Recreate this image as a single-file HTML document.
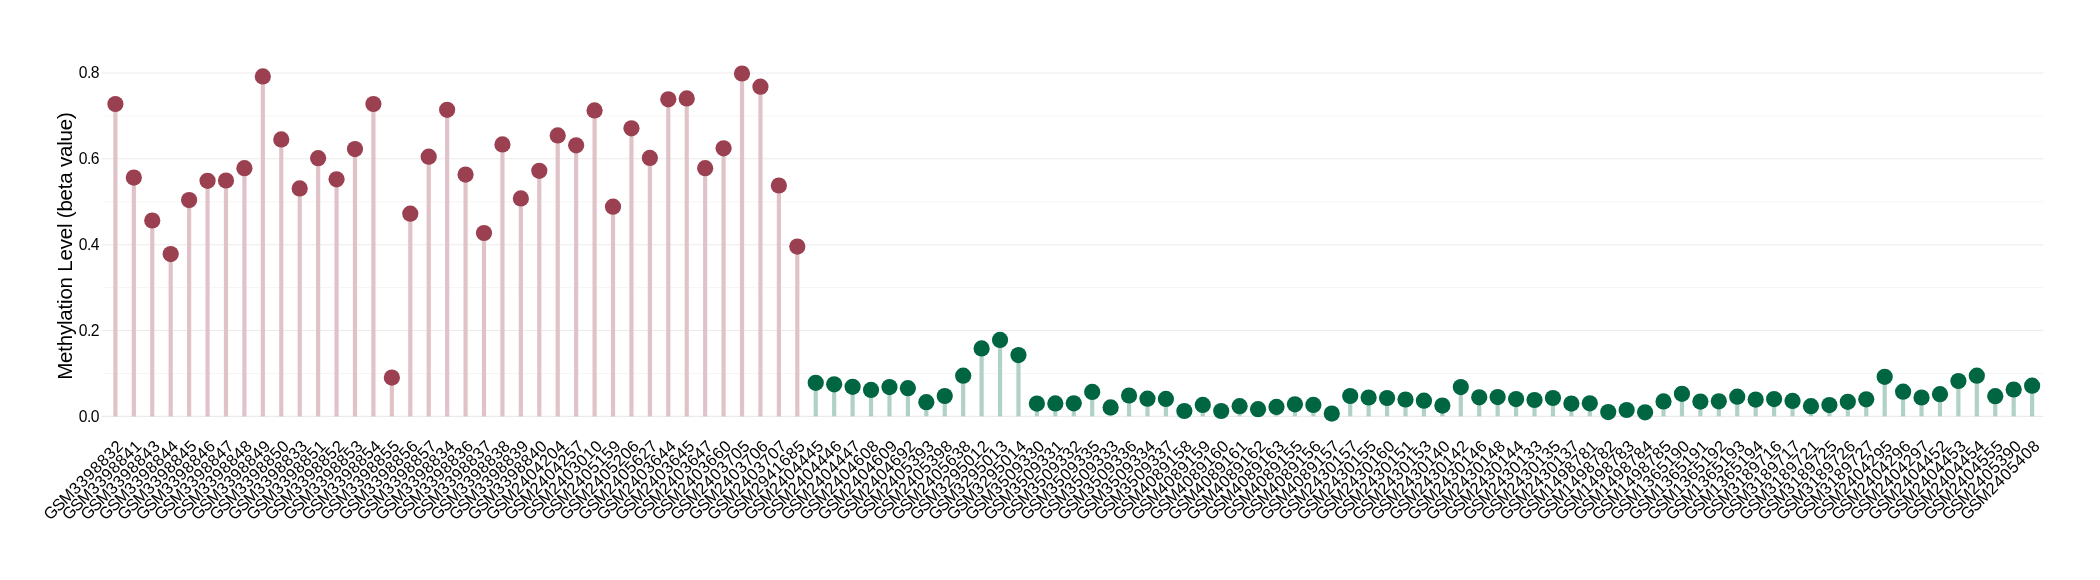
<!DOCTYPE html><html><head><meta charset="utf-8"><style>html,body{margin:0;padding:0;background:#fff;width:2100px;height:580px;overflow:hidden}svg{display:block;will-change:transform}text{font-family:"Liberation Sans",sans-serif;fill:#000}</style></head><body>
<svg width="2100" height="580" viewBox="0 0 2100 580">
<rect width="2100" height="580" fill="#fff"/>
<line x1="104.1" x2="2043.2" y1="373.47" y2="373.47" stroke="#F0F0F0" stroke-width="0.7"/>
<line x1="104.1" x2="2043.2" y1="287.61" y2="287.61" stroke="#F0F0F0" stroke-width="0.7"/>
<line x1="104.1" x2="2043.2" y1="201.75" y2="201.75" stroke="#F0F0F0" stroke-width="0.7"/>
<line x1="104.1" x2="2043.2" y1="115.89" y2="115.89" stroke="#F0F0F0" stroke-width="0.7"/>
<line x1="101.6" x2="2043.2" y1="416.40" y2="416.40" stroke="#EBEBEB" stroke-width="1.07"/>
<line x1="101.6" x2="2043.2" y1="330.54" y2="330.54" stroke="#EBEBEB" stroke-width="1.07"/>
<line x1="101.6" x2="2043.2" y1="244.68" y2="244.68" stroke="#EBEBEB" stroke-width="1.07"/>
<line x1="101.6" x2="2043.2" y1="158.82" y2="158.82" stroke="#EBEBEB" stroke-width="1.07"/>
<line x1="101.6" x2="2043.2" y1="72.96" y2="72.96" stroke="#EBEBEB" stroke-width="1.07"/>
<text x="99.0" y="421.54" font-size="15.7" letter-spacing="-0.5" text-anchor="end">0.0</text>
<text x="99.0" y="335.68" font-size="15.7" letter-spacing="-0.5" text-anchor="end">0.2</text>
<text x="99.0" y="249.82" font-size="15.7" letter-spacing="-0.5" text-anchor="end">0.4</text>
<text x="99.0" y="163.96" font-size="15.7" letter-spacing="-0.5" text-anchor="end">0.6</text>
<text x="99.0" y="78.10" font-size="15.7" letter-spacing="-0.5" text-anchor="end">0.8</text>
<text transform="translate(72.0,246.1) rotate(-90)" font-size="20.5" letter-spacing="-0.2" text-anchor="middle">Methylation Level (beta value)</text>
<line x1="115.40" x2="115.40" y1="416.4" y2="104.00" stroke="#E0C3C8" stroke-width="4.2"/>
<line x1="133.83" x2="133.83" y1="416.4" y2="177.60" stroke="#E0C3C8" stroke-width="4.2"/>
<line x1="152.26" x2="152.26" y1="416.4" y2="220.50" stroke="#E0C3C8" stroke-width="4.2"/>
<line x1="170.69" x2="170.69" y1="416.4" y2="254.10" stroke="#E0C3C8" stroke-width="4.2"/>
<line x1="189.12" x2="189.12" y1="416.4" y2="200.10" stroke="#E0C3C8" stroke-width="4.2"/>
<line x1="207.55" x2="207.55" y1="416.4" y2="180.80" stroke="#E0C3C8" stroke-width="4.2"/>
<line x1="225.98" x2="225.98" y1="416.4" y2="180.50" stroke="#E0C3C8" stroke-width="4.2"/>
<line x1="244.41" x2="244.41" y1="416.4" y2="168.20" stroke="#E0C3C8" stroke-width="4.2"/>
<line x1="262.84" x2="262.84" y1="416.4" y2="76.40" stroke="#E0C3C8" stroke-width="4.2"/>
<line x1="281.27" x2="281.27" y1="416.4" y2="139.40" stroke="#E0C3C8" stroke-width="4.2"/>
<line x1="299.70" x2="299.70" y1="416.4" y2="188.40" stroke="#E0C3C8" stroke-width="4.2"/>
<line x1="318.13" x2="318.13" y1="416.4" y2="158.20" stroke="#E0C3C8" stroke-width="4.2"/>
<line x1="336.56" x2="336.56" y1="416.4" y2="179.30" stroke="#E0C3C8" stroke-width="4.2"/>
<line x1="354.99" x2="354.99" y1="416.4" y2="149.10" stroke="#E0C3C8" stroke-width="4.2"/>
<line x1="373.42" x2="373.42" y1="416.4" y2="104.00" stroke="#E0C3C8" stroke-width="4.2"/>
<line x1="391.85" x2="391.85" y1="416.4" y2="377.60" stroke="#E0C3C8" stroke-width="4.2"/>
<line x1="410.28" x2="410.28" y1="416.4" y2="213.70" stroke="#E0C3C8" stroke-width="4.2"/>
<line x1="428.71" x2="428.71" y1="416.4" y2="156.70" stroke="#E0C3C8" stroke-width="4.2"/>
<line x1="447.14" x2="447.14" y1="416.4" y2="109.80" stroke="#E0C3C8" stroke-width="4.2"/>
<line x1="465.57" x2="465.57" y1="416.4" y2="174.60" stroke="#E0C3C8" stroke-width="4.2"/>
<line x1="484.00" x2="484.00" y1="416.4" y2="233.00" stroke="#E0C3C8" stroke-width="4.2"/>
<line x1="502.43" x2="502.43" y1="416.4" y2="144.40" stroke="#E0C3C8" stroke-width="4.2"/>
<line x1="520.86" x2="520.86" y1="416.4" y2="198.40" stroke="#E0C3C8" stroke-width="4.2"/>
<line x1="539.29" x2="539.29" y1="416.4" y2="170.80" stroke="#E0C3C8" stroke-width="4.2"/>
<line x1="557.72" x2="557.72" y1="416.4" y2="135.40" stroke="#E0C3C8" stroke-width="4.2"/>
<line x1="576.15" x2="576.15" y1="416.4" y2="145.30" stroke="#E0C3C8" stroke-width="4.2"/>
<line x1="594.58" x2="594.58" y1="416.4" y2="110.40" stroke="#E0C3C8" stroke-width="4.2"/>
<line x1="613.01" x2="613.01" y1="416.4" y2="206.70" stroke="#E0C3C8" stroke-width="4.2"/>
<line x1="631.44" x2="631.44" y1="416.4" y2="128.30" stroke="#E0C3C8" stroke-width="4.2"/>
<line x1="649.87" x2="649.87" y1="416.4" y2="157.90" stroke="#E0C3C8" stroke-width="4.2"/>
<line x1="668.30" x2="668.30" y1="416.4" y2="99.30" stroke="#E0C3C8" stroke-width="4.2"/>
<line x1="686.73" x2="686.73" y1="416.4" y2="98.40" stroke="#E0C3C8" stroke-width="4.2"/>
<line x1="705.16" x2="705.16" y1="416.4" y2="168.20" stroke="#E0C3C8" stroke-width="4.2"/>
<line x1="723.59" x2="723.59" y1="416.4" y2="148.30" stroke="#E0C3C8" stroke-width="4.2"/>
<line x1="742.02" x2="742.02" y1="416.4" y2="73.50" stroke="#E0C3C8" stroke-width="4.2"/>
<line x1="760.45" x2="760.45" y1="416.4" y2="86.70" stroke="#E0C3C8" stroke-width="4.2"/>
<line x1="778.88" x2="778.88" y1="416.4" y2="185.50" stroke="#E0C3C8" stroke-width="4.2"/>
<line x1="797.31" x2="797.31" y1="416.4" y2="246.60" stroke="#E0C3C8" stroke-width="4.2"/>
<line x1="815.74" x2="815.74" y1="416.4" y2="382.80" stroke="#B0D2C5" stroke-width="4.2"/>
<line x1="834.17" x2="834.17" y1="416.4" y2="384.30" stroke="#B0D2C5" stroke-width="4.2"/>
<line x1="852.60" x2="852.60" y1="416.4" y2="386.80" stroke="#B0D2C5" stroke-width="4.2"/>
<line x1="871.03" x2="871.03" y1="416.4" y2="389.90" stroke="#B0D2C5" stroke-width="4.2"/>
<line x1="889.46" x2="889.46" y1="416.4" y2="387.10" stroke="#B0D2C5" stroke-width="4.2"/>
<line x1="907.89" x2="907.89" y1="416.4" y2="388.20" stroke="#B0D2C5" stroke-width="4.2"/>
<line x1="926.32" x2="926.32" y1="416.4" y2="402.20" stroke="#B0D2C5" stroke-width="4.2"/>
<line x1="944.75" x2="944.75" y1="416.4" y2="396.00" stroke="#B0D2C5" stroke-width="4.2"/>
<line x1="963.18" x2="963.18" y1="416.4" y2="375.70" stroke="#B0D2C5" stroke-width="4.2"/>
<line x1="981.61" x2="981.61" y1="416.4" y2="348.40" stroke="#B0D2C5" stroke-width="4.2"/>
<line x1="1000.04" x2="1000.04" y1="416.4" y2="339.90" stroke="#B0D2C5" stroke-width="4.2"/>
<line x1="1018.47" x2="1018.47" y1="416.4" y2="355.10" stroke="#B0D2C5" stroke-width="4.2"/>
<line x1="1036.90" x2="1036.90" y1="416.4" y2="403.60" stroke="#B0D2C5" stroke-width="4.2"/>
<line x1="1055.33" x2="1055.33" y1="416.4" y2="403.40" stroke="#B0D2C5" stroke-width="4.2"/>
<line x1="1073.76" x2="1073.76" y1="416.4" y2="403.30" stroke="#B0D2C5" stroke-width="4.2"/>
<line x1="1092.19" x2="1092.19" y1="416.4" y2="391.90" stroke="#B0D2C5" stroke-width="4.2"/>
<line x1="1110.62" x2="1110.62" y1="416.4" y2="407.40" stroke="#B0D2C5" stroke-width="4.2"/>
<line x1="1129.05" x2="1129.05" y1="416.4" y2="395.50" stroke="#B0D2C5" stroke-width="4.2"/>
<line x1="1147.48" x2="1147.48" y1="416.4" y2="398.70" stroke="#B0D2C5" stroke-width="4.2"/>
<line x1="1165.91" x2="1165.91" y1="416.4" y2="398.90" stroke="#B0D2C5" stroke-width="4.2"/>
<line x1="1184.34" x2="1184.34" y1="416.4" y2="411.00" stroke="#B0D2C5" stroke-width="4.2"/>
<line x1="1202.77" x2="1202.77" y1="416.4" y2="404.90" stroke="#B0D2C5" stroke-width="4.2"/>
<line x1="1221.20" x2="1221.20" y1="416.4" y2="411.00" stroke="#B0D2C5" stroke-width="4.2"/>
<line x1="1239.63" x2="1239.63" y1="416.4" y2="406.20" stroke="#B0D2C5" stroke-width="4.2"/>
<line x1="1258.06" x2="1258.06" y1="416.4" y2="409.20" stroke="#B0D2C5" stroke-width="4.2"/>
<line x1="1276.49" x2="1276.49" y1="416.4" y2="406.90" stroke="#B0D2C5" stroke-width="4.2"/>
<line x1="1294.92" x2="1294.92" y1="416.4" y2="404.30" stroke="#B0D2C5" stroke-width="4.2"/>
<line x1="1313.35" x2="1313.35" y1="416.4" y2="404.90" stroke="#B0D2C5" stroke-width="4.2"/>
<line x1="1331.78" x2="1331.78" y1="416.4" y2="413.60" stroke="#B0D2C5" stroke-width="4.2"/>
<line x1="1350.21" x2="1350.21" y1="416.4" y2="396.00" stroke="#B0D2C5" stroke-width="4.2"/>
<line x1="1368.64" x2="1368.64" y1="416.4" y2="397.50" stroke="#B0D2C5" stroke-width="4.2"/>
<line x1="1387.07" x2="1387.07" y1="416.4" y2="398.00" stroke="#B0D2C5" stroke-width="4.2"/>
<line x1="1405.50" x2="1405.50" y1="416.4" y2="399.50" stroke="#B0D2C5" stroke-width="4.2"/>
<line x1="1423.93" x2="1423.93" y1="416.4" y2="400.70" stroke="#B0D2C5" stroke-width="4.2"/>
<line x1="1442.36" x2="1442.36" y1="416.4" y2="405.60" stroke="#B0D2C5" stroke-width="4.2"/>
<line x1="1460.79" x2="1460.79" y1="416.4" y2="387.10" stroke="#B0D2C5" stroke-width="4.2"/>
<line x1="1479.22" x2="1479.22" y1="416.4" y2="397.30" stroke="#B0D2C5" stroke-width="4.2"/>
<line x1="1497.65" x2="1497.65" y1="416.4" y2="397.10" stroke="#B0D2C5" stroke-width="4.2"/>
<line x1="1516.08" x2="1516.08" y1="416.4" y2="399.10" stroke="#B0D2C5" stroke-width="4.2"/>
<line x1="1534.51" x2="1534.51" y1="416.4" y2="400.00" stroke="#B0D2C5" stroke-width="4.2"/>
<line x1="1552.94" x2="1552.94" y1="416.4" y2="398.00" stroke="#B0D2C5" stroke-width="4.2"/>
<line x1="1571.37" x2="1571.37" y1="416.4" y2="403.60" stroke="#B0D2C5" stroke-width="4.2"/>
<line x1="1589.80" x2="1589.80" y1="416.4" y2="403.30" stroke="#B0D2C5" stroke-width="4.2"/>
<line x1="1608.23" x2="1608.23" y1="416.4" y2="412.10" stroke="#B0D2C5" stroke-width="4.2"/>
<line x1="1626.66" x2="1626.66" y1="416.4" y2="410.00" stroke="#B0D2C5" stroke-width="4.2"/>
<line x1="1645.09" x2="1645.09" y1="416.4" y2="412.30" stroke="#B0D2C5" stroke-width="4.2"/>
<line x1="1663.52" x2="1663.52" y1="416.4" y2="401.40" stroke="#B0D2C5" stroke-width="4.2"/>
<line x1="1681.95" x2="1681.95" y1="416.4" y2="393.80" stroke="#B0D2C5" stroke-width="4.2"/>
<line x1="1700.38" x2="1700.38" y1="416.4" y2="401.60" stroke="#B0D2C5" stroke-width="4.2"/>
<line x1="1718.81" x2="1718.81" y1="416.4" y2="401.30" stroke="#B0D2C5" stroke-width="4.2"/>
<line x1="1737.24" x2="1737.24" y1="416.4" y2="396.70" stroke="#B0D2C5" stroke-width="4.2"/>
<line x1="1755.67" x2="1755.67" y1="416.4" y2="399.60" stroke="#B0D2C5" stroke-width="4.2"/>
<line x1="1774.10" x2="1774.10" y1="416.4" y2="399.10" stroke="#B0D2C5" stroke-width="4.2"/>
<line x1="1792.53" x2="1792.53" y1="416.4" y2="400.90" stroke="#B0D2C5" stroke-width="4.2"/>
<line x1="1810.96" x2="1810.96" y1="416.4" y2="406.20" stroke="#B0D2C5" stroke-width="4.2"/>
<line x1="1829.39" x2="1829.39" y1="416.4" y2="405.10" stroke="#B0D2C5" stroke-width="4.2"/>
<line x1="1847.82" x2="1847.82" y1="416.4" y2="401.80" stroke="#B0D2C5" stroke-width="4.2"/>
<line x1="1866.25" x2="1866.25" y1="416.4" y2="399.30" stroke="#B0D2C5" stroke-width="4.2"/>
<line x1="1884.68" x2="1884.68" y1="416.4" y2="376.80" stroke="#B0D2C5" stroke-width="4.2"/>
<line x1="1903.11" x2="1903.11" y1="416.4" y2="391.70" stroke="#B0D2C5" stroke-width="4.2"/>
<line x1="1921.54" x2="1921.54" y1="416.4" y2="397.50" stroke="#B0D2C5" stroke-width="4.2"/>
<line x1="1939.97" x2="1939.97" y1="416.4" y2="394.20" stroke="#B0D2C5" stroke-width="4.2"/>
<line x1="1958.40" x2="1958.40" y1="416.4" y2="381.00" stroke="#B0D2C5" stroke-width="4.2"/>
<line x1="1976.83" x2="1976.83" y1="416.4" y2="375.70" stroke="#B0D2C5" stroke-width="4.2"/>
<line x1="1995.26" x2="1995.26" y1="416.4" y2="396.20" stroke="#B0D2C5" stroke-width="4.2"/>
<line x1="2013.69" x2="2013.69" y1="416.4" y2="389.50" stroke="#B0D2C5" stroke-width="4.2"/>
<line x1="2032.12" x2="2032.12" y1="416.4" y2="385.70" stroke="#B0D2C5" stroke-width="4.2"/>
<circle cx="115.40" cy="104.00" r="8.1" fill="#9A4050"/>
<circle cx="133.83" cy="177.60" r="8.1" fill="#9A4050"/>
<circle cx="152.26" cy="220.50" r="8.1" fill="#9A4050"/>
<circle cx="170.69" cy="254.10" r="8.1" fill="#9A4050"/>
<circle cx="189.12" cy="200.10" r="8.1" fill="#9A4050"/>
<circle cx="207.55" cy="180.80" r="8.1" fill="#9A4050"/>
<circle cx="225.98" cy="180.50" r="8.1" fill="#9A4050"/>
<circle cx="244.41" cy="168.20" r="8.1" fill="#9A4050"/>
<circle cx="262.84" cy="76.40" r="8.1" fill="#9A4050"/>
<circle cx="281.27" cy="139.40" r="8.1" fill="#9A4050"/>
<circle cx="299.70" cy="188.40" r="8.1" fill="#9A4050"/>
<circle cx="318.13" cy="158.20" r="8.1" fill="#9A4050"/>
<circle cx="336.56" cy="179.30" r="8.1" fill="#9A4050"/>
<circle cx="354.99" cy="149.10" r="8.1" fill="#9A4050"/>
<circle cx="373.42" cy="104.00" r="8.1" fill="#9A4050"/>
<circle cx="391.85" cy="377.60" r="8.1" fill="#9A4050"/>
<circle cx="410.28" cy="213.70" r="8.1" fill="#9A4050"/>
<circle cx="428.71" cy="156.70" r="8.1" fill="#9A4050"/>
<circle cx="447.14" cy="109.80" r="8.1" fill="#9A4050"/>
<circle cx="465.57" cy="174.60" r="8.1" fill="#9A4050"/>
<circle cx="484.00" cy="233.00" r="8.1" fill="#9A4050"/>
<circle cx="502.43" cy="144.40" r="8.1" fill="#9A4050"/>
<circle cx="520.86" cy="198.40" r="8.1" fill="#9A4050"/>
<circle cx="539.29" cy="170.80" r="8.1" fill="#9A4050"/>
<circle cx="557.72" cy="135.40" r="8.1" fill="#9A4050"/>
<circle cx="576.15" cy="145.30" r="8.1" fill="#9A4050"/>
<circle cx="594.58" cy="110.40" r="8.1" fill="#9A4050"/>
<circle cx="613.01" cy="206.70" r="8.1" fill="#9A4050"/>
<circle cx="631.44" cy="128.30" r="8.1" fill="#9A4050"/>
<circle cx="649.87" cy="157.90" r="8.1" fill="#9A4050"/>
<circle cx="668.30" cy="99.30" r="8.1" fill="#9A4050"/>
<circle cx="686.73" cy="98.40" r="8.1" fill="#9A4050"/>
<circle cx="705.16" cy="168.20" r="8.1" fill="#9A4050"/>
<circle cx="723.59" cy="148.30" r="8.1" fill="#9A4050"/>
<circle cx="742.02" cy="73.50" r="8.1" fill="#9A4050"/>
<circle cx="760.45" cy="86.70" r="8.1" fill="#9A4050"/>
<circle cx="778.88" cy="185.50" r="8.1" fill="#9A4050"/>
<circle cx="797.31" cy="246.60" r="8.1" fill="#9A4050"/>
<circle cx="815.74" cy="382.80" r="8.1" fill="#006642"/>
<circle cx="834.17" cy="384.30" r="8.1" fill="#006642"/>
<circle cx="852.60" cy="386.80" r="8.1" fill="#006642"/>
<circle cx="871.03" cy="389.90" r="8.1" fill="#006642"/>
<circle cx="889.46" cy="387.10" r="8.1" fill="#006642"/>
<circle cx="907.89" cy="388.20" r="8.1" fill="#006642"/>
<circle cx="926.32" cy="402.20" r="8.1" fill="#006642"/>
<circle cx="944.75" cy="396.00" r="8.1" fill="#006642"/>
<circle cx="963.18" cy="375.70" r="8.1" fill="#006642"/>
<circle cx="981.61" cy="348.40" r="8.1" fill="#006642"/>
<circle cx="1000.04" cy="339.90" r="8.1" fill="#006642"/>
<circle cx="1018.47" cy="355.10" r="8.1" fill="#006642"/>
<circle cx="1036.90" cy="403.60" r="8.1" fill="#006642"/>
<circle cx="1055.33" cy="403.40" r="8.1" fill="#006642"/>
<circle cx="1073.76" cy="403.30" r="8.1" fill="#006642"/>
<circle cx="1092.19" cy="391.90" r="8.1" fill="#006642"/>
<circle cx="1110.62" cy="407.40" r="8.1" fill="#006642"/>
<circle cx="1129.05" cy="395.50" r="8.1" fill="#006642"/>
<circle cx="1147.48" cy="398.70" r="8.1" fill="#006642"/>
<circle cx="1165.91" cy="398.90" r="8.1" fill="#006642"/>
<circle cx="1184.34" cy="411.00" r="8.1" fill="#006642"/>
<circle cx="1202.77" cy="404.90" r="8.1" fill="#006642"/>
<circle cx="1221.20" cy="411.00" r="8.1" fill="#006642"/>
<circle cx="1239.63" cy="406.20" r="8.1" fill="#006642"/>
<circle cx="1258.06" cy="409.20" r="8.1" fill="#006642"/>
<circle cx="1276.49" cy="406.90" r="8.1" fill="#006642"/>
<circle cx="1294.92" cy="404.30" r="8.1" fill="#006642"/>
<circle cx="1313.35" cy="404.90" r="8.1" fill="#006642"/>
<circle cx="1331.78" cy="413.60" r="8.1" fill="#006642"/>
<circle cx="1350.21" cy="396.00" r="8.1" fill="#006642"/>
<circle cx="1368.64" cy="397.50" r="8.1" fill="#006642"/>
<circle cx="1387.07" cy="398.00" r="8.1" fill="#006642"/>
<circle cx="1405.50" cy="399.50" r="8.1" fill="#006642"/>
<circle cx="1423.93" cy="400.70" r="8.1" fill="#006642"/>
<circle cx="1442.36" cy="405.60" r="8.1" fill="#006642"/>
<circle cx="1460.79" cy="387.10" r="8.1" fill="#006642"/>
<circle cx="1479.22" cy="397.30" r="8.1" fill="#006642"/>
<circle cx="1497.65" cy="397.10" r="8.1" fill="#006642"/>
<circle cx="1516.08" cy="399.10" r="8.1" fill="#006642"/>
<circle cx="1534.51" cy="400.00" r="8.1" fill="#006642"/>
<circle cx="1552.94" cy="398.00" r="8.1" fill="#006642"/>
<circle cx="1571.37" cy="403.60" r="8.1" fill="#006642"/>
<circle cx="1589.80" cy="403.30" r="8.1" fill="#006642"/>
<circle cx="1608.23" cy="412.10" r="8.1" fill="#006642"/>
<circle cx="1626.66" cy="410.00" r="8.1" fill="#006642"/>
<circle cx="1645.09" cy="412.30" r="8.1" fill="#006642"/>
<circle cx="1663.52" cy="401.40" r="8.1" fill="#006642"/>
<circle cx="1681.95" cy="393.80" r="8.1" fill="#006642"/>
<circle cx="1700.38" cy="401.60" r="8.1" fill="#006642"/>
<circle cx="1718.81" cy="401.30" r="8.1" fill="#006642"/>
<circle cx="1737.24" cy="396.70" r="8.1" fill="#006642"/>
<circle cx="1755.67" cy="399.60" r="8.1" fill="#006642"/>
<circle cx="1774.10" cy="399.10" r="8.1" fill="#006642"/>
<circle cx="1792.53" cy="400.90" r="8.1" fill="#006642"/>
<circle cx="1810.96" cy="406.20" r="8.1" fill="#006642"/>
<circle cx="1829.39" cy="405.10" r="8.1" fill="#006642"/>
<circle cx="1847.82" cy="401.80" r="8.1" fill="#006642"/>
<circle cx="1866.25" cy="399.30" r="8.1" fill="#006642"/>
<circle cx="1884.68" cy="376.80" r="8.1" fill="#006642"/>
<circle cx="1903.11" cy="391.70" r="8.1" fill="#006642"/>
<circle cx="1921.54" cy="397.50" r="8.1" fill="#006642"/>
<circle cx="1939.97" cy="394.20" r="8.1" fill="#006642"/>
<circle cx="1958.40" cy="381.00" r="8.1" fill="#006642"/>
<circle cx="1976.83" cy="375.70" r="8.1" fill="#006642"/>
<circle cx="1995.26" cy="396.20" r="8.1" fill="#006642"/>
<circle cx="2013.69" cy="389.50" r="8.1" fill="#006642"/>
<circle cx="2032.12" cy="385.70" r="8.1" fill="#006642"/>
<text transform="translate(124.30,446.9) rotate(-45)" font-size="16.5" x="-104.67 -92.83 -82.59 -68.69 -58.83 -48.97 -39.10 -29.24 -19.38 -9.52">GSM3398832</text>
<text transform="translate(142.73,446.9) rotate(-45)" font-size="16.5" x="-104.67 -92.83 -82.59 -68.69 -58.83 -48.97 -39.10 -29.24 -19.38 -9.52">GSM3398841</text>
<text transform="translate(161.16,446.9) rotate(-45)" font-size="16.5" x="-104.67 -92.83 -82.59 -68.69 -58.83 -48.97 -39.10 -29.24 -19.38 -9.52">GSM3398843</text>
<text transform="translate(179.59,446.9) rotate(-45)" font-size="16.5" x="-104.67 -92.83 -82.59 -68.69 -58.83 -48.97 -39.10 -29.24 -19.38 -9.52">GSM3398844</text>
<text transform="translate(198.02,446.9) rotate(-45)" font-size="16.5" x="-104.67 -92.83 -82.59 -68.69 -58.83 -48.97 -39.10 -29.24 -19.38 -9.52">GSM3398845</text>
<text transform="translate(216.45,446.9) rotate(-45)" font-size="16.5" x="-104.67 -92.83 -82.59 -68.69 -58.83 -48.97 -39.10 -29.24 -19.38 -9.52">GSM3398846</text>
<text transform="translate(234.88,446.9) rotate(-45)" font-size="16.5" x="-104.67 -92.83 -82.59 -68.69 -58.83 -48.97 -39.10 -29.24 -19.38 -9.52">GSM3398847</text>
<text transform="translate(253.31,446.9) rotate(-45)" font-size="16.5" x="-104.67 -92.83 -82.59 -68.69 -58.83 -48.97 -39.10 -29.24 -19.38 -9.52">GSM3398848</text>
<text transform="translate(271.74,446.9) rotate(-45)" font-size="16.5" x="-104.67 -92.83 -82.59 -68.69 -58.83 -48.97 -39.10 -29.24 -19.38 -9.52">GSM3398849</text>
<text transform="translate(290.17,446.9) rotate(-45)" font-size="16.5" x="-104.67 -92.83 -82.59 -68.69 -58.83 -48.97 -39.10 -29.24 -19.38 -9.52">GSM3398850</text>
<text transform="translate(308.60,446.9) rotate(-45)" font-size="16.5" x="-104.67 -92.83 -82.59 -68.69 -58.83 -48.97 -39.10 -29.24 -19.38 -9.52">GSM3398833</text>
<text transform="translate(327.03,446.9) rotate(-45)" font-size="16.5" x="-104.67 -92.83 -82.59 -68.69 -58.83 -48.97 -39.10 -29.24 -19.38 -9.52">GSM3398851</text>
<text transform="translate(345.46,446.9) rotate(-45)" font-size="16.5" x="-104.67 -92.83 -82.59 -68.69 -58.83 -48.97 -39.10 -29.24 -19.38 -9.52">GSM3398852</text>
<text transform="translate(363.89,446.9) rotate(-45)" font-size="16.5" x="-104.67 -92.83 -82.59 -68.69 -58.83 -48.97 -39.10 -29.24 -19.38 -9.52">GSM3398853</text>
<text transform="translate(382.32,446.9) rotate(-45)" font-size="16.5" x="-104.67 -92.83 -82.59 -68.69 -58.83 -48.97 -39.10 -29.24 -19.38 -9.52">GSM3398854</text>
<text transform="translate(400.75,446.9) rotate(-45)" font-size="16.5" x="-104.67 -92.83 -82.59 -68.69 -58.83 -48.97 -39.10 -29.24 -19.38 -9.52">GSM3398855</text>
<text transform="translate(419.18,446.9) rotate(-45)" font-size="16.5" x="-104.67 -92.83 -82.59 -68.69 -58.83 -48.97 -39.10 -29.24 -19.38 -9.52">GSM3398856</text>
<text transform="translate(437.61,446.9) rotate(-45)" font-size="16.5" x="-104.67 -92.83 -82.59 -68.69 -58.83 -48.97 -39.10 -29.24 -19.38 -9.52">GSM3398857</text>
<text transform="translate(456.04,446.9) rotate(-45)" font-size="16.5" x="-104.67 -92.83 -82.59 -68.69 -58.83 -48.97 -39.10 -29.24 -19.38 -9.52">GSM3398834</text>
<text transform="translate(474.47,446.9) rotate(-45)" font-size="16.5" x="-104.67 -92.83 -82.59 -68.69 -58.83 -48.97 -39.10 -29.24 -19.38 -9.52">GSM3398836</text>
<text transform="translate(492.90,446.9) rotate(-45)" font-size="16.5" x="-104.67 -92.83 -82.59 -68.69 -58.83 -48.97 -39.10 -29.24 -19.38 -9.52">GSM3398837</text>
<text transform="translate(511.33,446.9) rotate(-45)" font-size="16.5" x="-104.67 -92.83 -82.59 -68.69 -58.83 -48.97 -39.10 -29.24 -19.38 -9.52">GSM3398838</text>
<text transform="translate(529.76,446.9) rotate(-45)" font-size="16.5" x="-104.67 -92.83 -82.59 -68.69 -58.83 -48.97 -39.10 -29.24 -19.38 -9.52">GSM3398839</text>
<text transform="translate(548.19,446.9) rotate(-45)" font-size="16.5" x="-104.67 -92.83 -82.59 -68.69 -58.83 -48.97 -39.10 -29.24 -19.38 -9.52">GSM3398840</text>
<text transform="translate(566.62,446.9) rotate(-45)" font-size="16.5" x="-104.67 -92.83 -82.59 -68.69 -58.83 -48.97 -39.10 -29.24 -19.38 -9.52">GSM2404204</text>
<text transform="translate(585.05,446.9) rotate(-45)" font-size="16.5" x="-104.67 -92.83 -82.59 -68.69 -58.83 -48.97 -39.10 -29.24 -19.38 -9.52">GSM2404257</text>
<text transform="translate(603.48,446.9) rotate(-45)" font-size="16.5" x="-104.67 -92.83 -82.59 -68.69 -58.83 -48.97 -39.10 -29.24 -19.38 -9.52">GSM2403010</text>
<text transform="translate(621.91,446.9) rotate(-45)" font-size="16.5" x="-104.67 -92.83 -82.59 -68.69 -58.83 -48.97 -39.10 -29.24 -19.38 -9.52">GSM2405159</text>
<text transform="translate(640.34,446.9) rotate(-45)" font-size="16.5" x="-104.67 -92.83 -82.59 -68.69 -58.83 -48.97 -39.10 -29.24 -19.38 -9.52">GSM2405206</text>
<text transform="translate(658.77,446.9) rotate(-45)" font-size="16.5" x="-104.67 -92.83 -82.59 -68.69 -58.83 -48.97 -39.10 -29.24 -19.38 -9.52">GSM2405627</text>
<text transform="translate(677.20,446.9) rotate(-45)" font-size="16.5" x="-104.67 -92.83 -82.59 -68.69 -58.83 -48.97 -39.10 -29.24 -19.38 -9.52">GSM2403644</text>
<text transform="translate(695.63,446.9) rotate(-45)" font-size="16.5" x="-104.67 -92.83 -82.59 -68.69 -58.83 -48.97 -39.10 -29.24 -19.38 -9.52">GSM2403645</text>
<text transform="translate(714.06,446.9) rotate(-45)" font-size="16.5" x="-104.67 -92.83 -82.59 -68.69 -58.83 -48.97 -39.10 -29.24 -19.38 -9.52">GSM2403647</text>
<text transform="translate(732.49,446.9) rotate(-45)" font-size="16.5" x="-104.67 -92.83 -82.59 -68.69 -58.83 -48.97 -39.10 -29.24 -19.38 -9.52">GSM2403660</text>
<text transform="translate(750.92,446.9) rotate(-45)" font-size="16.5" x="-104.67 -92.83 -82.59 -68.69 -58.83 -48.97 -39.10 -29.24 -19.38 -9.52">GSM2403705</text>
<text transform="translate(769.35,446.9) rotate(-45)" font-size="16.5" x="-104.67 -92.83 -82.59 -68.69 -58.83 -48.97 -39.10 -29.24 -19.38 -9.52">GSM2403706</text>
<text transform="translate(787.78,446.9) rotate(-45)" font-size="16.5" x="-104.67 -92.83 -82.59 -68.69 -58.83 -48.97 -39.10 -29.24 -19.38 -9.52">GSM2403707</text>
<text transform="translate(806.21,446.9) rotate(-45)" font-size="16.5" x="-104.67 -92.83 -82.59 -68.69 -58.83 -48.97 -39.10 -29.24 -19.38 -9.52">GSM2941685</text>
<text transform="translate(824.64,446.9) rotate(-45)" font-size="16.5" x="-104.67 -92.83 -82.59 -68.69 -58.83 -48.97 -39.10 -29.24 -19.38 -9.52">GSM2404445</text>
<text transform="translate(843.07,446.9) rotate(-45)" font-size="16.5" x="-104.67 -92.83 -82.59 -68.69 -58.83 -48.97 -39.10 -29.24 -19.38 -9.52">GSM2404446</text>
<text transform="translate(861.50,446.9) rotate(-45)" font-size="16.5" x="-104.67 -92.83 -82.59 -68.69 -58.83 -48.97 -39.10 -29.24 -19.38 -9.52">GSM2404447</text>
<text transform="translate(879.93,446.9) rotate(-45)" font-size="16.5" x="-104.67 -92.83 -82.59 -68.69 -58.83 -48.97 -39.10 -29.24 -19.38 -9.52">GSM2404608</text>
<text transform="translate(898.36,446.9) rotate(-45)" font-size="16.5" x="-104.67 -92.83 -82.59 -68.69 -58.83 -48.97 -39.10 -29.24 -19.38 -9.52">GSM2404609</text>
<text transform="translate(916.79,446.9) rotate(-45)" font-size="16.5" x="-104.67 -92.83 -82.59 -68.69 -58.83 -48.97 -39.10 -29.24 -19.38 -9.52">GSM2404692</text>
<text transform="translate(935.22,446.9) rotate(-45)" font-size="16.5" x="-104.67 -92.83 -82.59 -68.69 -58.83 -48.97 -39.10 -29.24 -19.38 -9.52">GSM2405393</text>
<text transform="translate(953.65,446.9) rotate(-45)" font-size="16.5" x="-104.67 -92.83 -82.59 -68.69 -58.83 -48.97 -39.10 -29.24 -19.38 -9.52">GSM2405398</text>
<text transform="translate(972.08,446.9) rotate(-45)" font-size="16.5" x="-104.67 -92.83 -82.59 -68.69 -58.83 -48.97 -39.10 -29.24 -19.38 -9.52">GSM2405638</text>
<text transform="translate(990.51,446.9) rotate(-45)" font-size="16.5" x="-104.67 -92.83 -82.59 -68.69 -58.83 -48.97 -39.10 -29.24 -19.38 -9.52">GSM3295012</text>
<text transform="translate(1008.94,446.9) rotate(-45)" font-size="16.5" x="-104.67 -92.83 -82.59 -68.69 -58.83 -48.97 -39.10 -29.24 -19.38 -9.52">GSM3295013</text>
<text transform="translate(1027.37,446.9) rotate(-45)" font-size="16.5" x="-104.67 -92.83 -82.59 -68.69 -58.83 -48.97 -39.10 -29.24 -19.38 -9.52">GSM3295014</text>
<text transform="translate(1045.80,446.9) rotate(-45)" font-size="16.5" x="-104.67 -92.83 -82.59 -68.69 -58.83 -48.97 -39.10 -29.24 -19.38 -9.52">GSM3509330</text>
<text transform="translate(1064.23,446.9) rotate(-45)" font-size="16.5" x="-104.67 -92.83 -82.59 -68.69 -58.83 -48.97 -39.10 -29.24 -19.38 -9.52">GSM3509331</text>
<text transform="translate(1082.66,446.9) rotate(-45)" font-size="16.5" x="-104.67 -92.83 -82.59 -68.69 -58.83 -48.97 -39.10 -29.24 -19.38 -9.52">GSM3509332</text>
<text transform="translate(1101.09,446.9) rotate(-45)" font-size="16.5" x="-104.67 -92.83 -82.59 -68.69 -58.83 -48.97 -39.10 -29.24 -19.38 -9.52">GSM3509335</text>
<text transform="translate(1119.52,446.9) rotate(-45)" font-size="16.5" x="-104.67 -92.83 -82.59 -68.69 -58.83 -48.97 -39.10 -29.24 -19.38 -9.52">GSM3509333</text>
<text transform="translate(1137.95,446.9) rotate(-45)" font-size="16.5" x="-104.67 -92.83 -82.59 -68.69 -58.83 -48.97 -39.10 -29.24 -19.38 -9.52">GSM3509336</text>
<text transform="translate(1156.38,446.9) rotate(-45)" font-size="16.5" x="-104.67 -92.83 -82.59 -68.69 -58.83 -48.97 -39.10 -29.24 -19.38 -9.52">GSM3509334</text>
<text transform="translate(1174.81,446.9) rotate(-45)" font-size="16.5" x="-104.67 -92.83 -82.59 -68.69 -58.83 -48.97 -39.10 -29.24 -19.38 -9.52">GSM3509337</text>
<text transform="translate(1193.24,446.9) rotate(-45)" font-size="16.5" x="-104.67 -92.83 -82.59 -68.69 -58.83 -48.97 -39.10 -29.24 -19.38 -9.52">GSM4089158</text>
<text transform="translate(1211.67,446.9) rotate(-45)" font-size="16.5" x="-104.67 -92.83 -82.59 -68.69 -58.83 -48.97 -39.10 -29.24 -19.38 -9.52">GSM4089159</text>
<text transform="translate(1230.10,446.9) rotate(-45)" font-size="16.5" x="-104.67 -92.83 -82.59 -68.69 -58.83 -48.97 -39.10 -29.24 -19.38 -9.52">GSM4089160</text>
<text transform="translate(1248.53,446.9) rotate(-45)" font-size="16.5" x="-104.67 -92.83 -82.59 -68.69 -58.83 -48.97 -39.10 -29.24 -19.38 -9.52">GSM4089161</text>
<text transform="translate(1266.96,446.9) rotate(-45)" font-size="16.5" x="-104.67 -92.83 -82.59 -68.69 -58.83 -48.97 -39.10 -29.24 -19.38 -9.52">GSM4089162</text>
<text transform="translate(1285.39,446.9) rotate(-45)" font-size="16.5" x="-104.67 -92.83 -82.59 -68.69 -58.83 -48.97 -39.10 -29.24 -19.38 -9.52">GSM4089163</text>
<text transform="translate(1303.82,446.9) rotate(-45)" font-size="16.5" x="-104.67 -92.83 -82.59 -68.69 -58.83 -48.97 -39.10 -29.24 -19.38 -9.52">GSM4089155</text>
<text transform="translate(1322.25,446.9) rotate(-45)" font-size="16.5" x="-104.67 -92.83 -82.59 -68.69 -58.83 -48.97 -39.10 -29.24 -19.38 -9.52">GSM4089156</text>
<text transform="translate(1340.68,446.9) rotate(-45)" font-size="16.5" x="-104.67 -92.83 -82.59 -68.69 -58.83 -48.97 -39.10 -29.24 -19.38 -9.52">GSM4089157</text>
<text transform="translate(1359.11,446.9) rotate(-45)" font-size="16.5" x="-104.67 -92.83 -82.59 -68.69 -58.83 -48.97 -39.10 -29.24 -19.38 -9.52">GSM2430157</text>
<text transform="translate(1377.54,446.9) rotate(-45)" font-size="16.5" x="-104.67 -92.83 -82.59 -68.69 -58.83 -48.97 -39.10 -29.24 -19.38 -9.52">GSM2430155</text>
<text transform="translate(1395.97,446.9) rotate(-45)" font-size="16.5" x="-104.67 -92.83 -82.59 -68.69 -58.83 -48.97 -39.10 -29.24 -19.38 -9.52">GSM2430160</text>
<text transform="translate(1414.40,446.9) rotate(-45)" font-size="16.5" x="-104.67 -92.83 -82.59 -68.69 -58.83 -48.97 -39.10 -29.24 -19.38 -9.52">GSM2430151</text>
<text transform="translate(1432.83,446.9) rotate(-45)" font-size="16.5" x="-104.67 -92.83 -82.59 -68.69 -58.83 -48.97 -39.10 -29.24 -19.38 -9.52">GSM2430153</text>
<text transform="translate(1451.26,446.9) rotate(-45)" font-size="16.5" x="-104.67 -92.83 -82.59 -68.69 -58.83 -48.97 -39.10 -29.24 -19.38 -9.52">GSM2430140</text>
<text transform="translate(1469.69,446.9) rotate(-45)" font-size="16.5" x="-104.67 -92.83 -82.59 -68.69 -58.83 -48.97 -39.10 -29.24 -19.38 -9.52">GSM2430142</text>
<text transform="translate(1488.12,446.9) rotate(-45)" font-size="16.5" x="-104.67 -92.83 -82.59 -68.69 -58.83 -48.97 -39.10 -29.24 -19.38 -9.52">GSM2430146</text>
<text transform="translate(1506.55,446.9) rotate(-45)" font-size="16.5" x="-104.67 -92.83 -82.59 -68.69 -58.83 -48.97 -39.10 -29.24 -19.38 -9.52">GSM2430148</text>
<text transform="translate(1524.98,446.9) rotate(-45)" font-size="16.5" x="-104.67 -92.83 -82.59 -68.69 -58.83 -48.97 -39.10 -29.24 -19.38 -9.52">GSM2430144</text>
<text transform="translate(1543.41,446.9) rotate(-45)" font-size="16.5" x="-104.67 -92.83 -82.59 -68.69 -58.83 -48.97 -39.10 -29.24 -19.38 -9.52">GSM2430133</text>
<text transform="translate(1561.84,446.9) rotate(-45)" font-size="16.5" x="-104.67 -92.83 -82.59 -68.69 -58.83 -48.97 -39.10 -29.24 -19.38 -9.52">GSM2430135</text>
<text transform="translate(1580.27,446.9) rotate(-45)" font-size="16.5" x="-104.67 -92.83 -82.59 -68.69 -58.83 -48.97 -39.10 -29.24 -19.38 -9.52">GSM2430137</text>
<text transform="translate(1598.70,446.9) rotate(-45)" font-size="16.5" x="-104.67 -92.83 -82.59 -68.69 -58.83 -48.97 -39.10 -29.24 -19.38 -9.52">GSM1498781</text>
<text transform="translate(1617.13,446.9) rotate(-45)" font-size="16.5" x="-104.67 -92.83 -82.59 -68.69 -58.83 -48.97 -39.10 -29.24 -19.38 -9.52">GSM1498782</text>
<text transform="translate(1635.56,446.9) rotate(-45)" font-size="16.5" x="-104.67 -92.83 -82.59 -68.69 -58.83 -48.97 -39.10 -29.24 -19.38 -9.52">GSM1498783</text>
<text transform="translate(1653.99,446.9) rotate(-45)" font-size="16.5" x="-104.67 -92.83 -82.59 -68.69 -58.83 -48.97 -39.10 -29.24 -19.38 -9.52">GSM1498784</text>
<text transform="translate(1672.42,446.9) rotate(-45)" font-size="16.5" x="-104.67 -92.83 -82.59 -68.69 -58.83 -48.97 -39.10 -29.24 -19.38 -9.52">GSM1498785</text>
<text transform="translate(1690.85,446.9) rotate(-45)" font-size="16.5" x="-104.67 -92.83 -82.59 -68.69 -58.83 -48.97 -39.10 -29.24 -19.38 -9.52">GSM1365190</text>
<text transform="translate(1709.28,446.9) rotate(-45)" font-size="16.5" x="-104.67 -92.83 -82.59 -68.69 -58.83 -48.97 -39.10 -29.24 -19.38 -9.52">GSM1365191</text>
<text transform="translate(1727.71,446.9) rotate(-45)" font-size="16.5" x="-104.67 -92.83 -82.59 -68.69 -58.83 -48.97 -39.10 -29.24 -19.38 -9.52">GSM1365192</text>
<text transform="translate(1746.14,446.9) rotate(-45)" font-size="16.5" x="-104.67 -92.83 -82.59 -68.69 -58.83 -48.97 -39.10 -29.24 -19.38 -9.52">GSM1365193</text>
<text transform="translate(1764.57,446.9) rotate(-45)" font-size="16.5" x="-104.67 -92.83 -82.59 -68.69 -58.83 -48.97 -39.10 -29.24 -19.38 -9.52">GSM1365194</text>
<text transform="translate(1783.00,446.9) rotate(-45)" font-size="16.5" x="-104.67 -92.83 -82.59 -68.69 -58.83 -48.97 -39.10 -29.24 -19.38 -9.52">GSM3189716</text>
<text transform="translate(1801.43,446.9) rotate(-45)" font-size="16.5" x="-104.67 -92.83 -82.59 -68.69 -58.83 -48.97 -39.10 -29.24 -19.38 -9.52">GSM3189717</text>
<text transform="translate(1819.86,446.9) rotate(-45)" font-size="16.5" x="-104.67 -92.83 -82.59 -68.69 -58.83 -48.97 -39.10 -29.24 -19.38 -9.52">GSM3189721</text>
<text transform="translate(1838.29,446.9) rotate(-45)" font-size="16.5" x="-104.67 -92.83 -82.59 -68.69 -58.83 -48.97 -39.10 -29.24 -19.38 -9.52">GSM3189725</text>
<text transform="translate(1856.72,446.9) rotate(-45)" font-size="16.5" x="-104.67 -92.83 -82.59 -68.69 -58.83 -48.97 -39.10 -29.24 -19.38 -9.52">GSM3189726</text>
<text transform="translate(1875.15,446.9) rotate(-45)" font-size="16.5" x="-104.67 -92.83 -82.59 -68.69 -58.83 -48.97 -39.10 -29.24 -19.38 -9.52">GSM3189727</text>
<text transform="translate(1893.58,446.9) rotate(-45)" font-size="16.5" x="-104.67 -92.83 -82.59 -68.69 -58.83 -48.97 -39.10 -29.24 -19.38 -9.52">GSM2404295</text>
<text transform="translate(1912.01,446.9) rotate(-45)" font-size="16.5" x="-104.67 -92.83 -82.59 -68.69 -58.83 -48.97 -39.10 -29.24 -19.38 -9.52">GSM2404296</text>
<text transform="translate(1930.44,446.9) rotate(-45)" font-size="16.5" x="-104.67 -92.83 -82.59 -68.69 -58.83 -48.97 -39.10 -29.24 -19.38 -9.52">GSM2404297</text>
<text transform="translate(1948.87,446.9) rotate(-45)" font-size="16.5" x="-104.67 -92.83 -82.59 -68.69 -58.83 -48.97 -39.10 -29.24 -19.38 -9.52">GSM2404452</text>
<text transform="translate(1967.30,446.9) rotate(-45)" font-size="16.5" x="-104.67 -92.83 -82.59 -68.69 -58.83 -48.97 -39.10 -29.24 -19.38 -9.52">GSM2404453</text>
<text transform="translate(1985.73,446.9) rotate(-45)" font-size="16.5" x="-104.67 -92.83 -82.59 -68.69 -58.83 -48.97 -39.10 -29.24 -19.38 -9.52">GSM2404454</text>
<text transform="translate(2004.16,446.9) rotate(-45)" font-size="16.5" x="-104.67 -92.83 -82.59 -68.69 -58.83 -48.97 -39.10 -29.24 -19.38 -9.52">GSM2404555</text>
<text transform="translate(2022.59,446.9) rotate(-45)" font-size="16.5" x="-104.67 -92.83 -82.59 -68.69 -58.83 -48.97 -39.10 -29.24 -19.38 -9.52">GSM2405390</text>
<text transform="translate(2041.02,446.9) rotate(-45)" font-size="16.5" x="-104.67 -92.83 -82.59 -68.69 -58.83 -48.97 -39.10 -29.24 -19.38 -9.52">GSM2405408</text>
</svg></body></html>
